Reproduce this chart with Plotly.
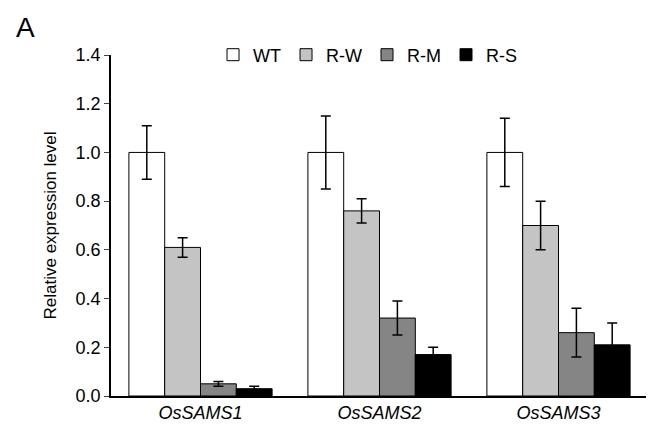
import plotly.graph_objects as go

genes = ["OsSAMS1", "OsSAMS2", "OsSAMS3"]
series = ["WT", "R-W", "R-M", "R-S"]
values = {
    "WT": [1.0, 1.0, 1.0],
    "R-W": [0.61, 0.76, 0.70],
    "R-M": [0.05, 0.32, 0.26],
    "R-S": [0.03, 0.17, 0.21],
}
errors = {
    "WT": [0.11, 0.15, 0.14],
    "R-W": [0.04, 0.05, 0.10],
    "R-M": [0.01, 0.07, 0.10],
    "R-S": [0.01, 0.03, 0.09],
}
colors = {"WT": "white", "R-W": "#c4c4c4", "R-M": "#858585", "R-S": "black"}

fig = go.Figure()
for s in series:
    fig.add_trace(go.Bar(
        x=genes, y=values[s], name=s,
        marker=dict(color=colors[s], line=dict(color="black", width=1)),
        error_y=dict(type="data", array=errors[s], color="black", thickness=1.5, width=5),
    ))

fig.update_layout(
    width=654, height=443,
    margin=dict(l=103, r=14, t=47, b=55, autoexpand=False),
    plot_bgcolor="white", paper_bgcolor="white",
    font=dict(family="Liberation Sans, Arial", size=18, color="black"),
    barmode="group", bargap=0.2, bargroupgap=0,
    showlegend=True,
    legend=dict(orientation="h", x=0.19, y=1.0, xanchor="left", yanchor="middle",
                font=dict(size=18), itemwidth=30, traceorder="normal",
                bgcolor="rgba(0,0,0,0)"),
    xaxis=dict(showline=True, linecolor="black", linewidth=1.5, ticks="",
               tickfont=dict(size=18, style="italic")),
    yaxis=dict(range=[0, 1.4], dtick=0.2, tickformat=".1f", showline=True,
               linecolor="black", linewidth=1.5, ticks="outside", ticklen=5,
               showgrid=False, zeroline=False,
               title=dict(text="Relative expression level", font=dict(size=17))),
)
fig.add_annotation(text="A", xref="paper", yref="paper", x=-0.18, y=1.03,
                   showarrow=False, font=dict(size=28), xanchor="left", yanchor="bottom")
fig.write_html("out.html")
